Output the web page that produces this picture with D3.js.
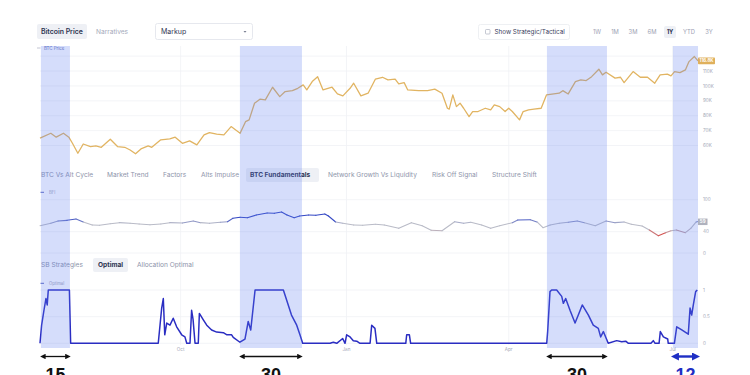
<!DOCTYPE html>
<html>
<head>
    <meta charset="utf-8" />
    <title>BTC Price / BFI / Optimal</title>
    <script src="https://d3js.org/d3.v7.min.js"></script>
    <style>
        body { margin: 0; background: #fff; }
        svg { display: block; font-family: Inter, "Noto Sans", sans-serif; }
        .tab { font-size: 6.6px; fill: #8e94aa; }
        .tab.active { fill: #2c3350; font-weight: 700; }
        .tick { font-size: 4.6px; fill: #a3a7b6; }
        .grid { stroke: #f0f1f5; stroke-width: 0.8; }
    </style>
</head>
<body>
<div id="chart"></div>
<script>
    // days are counted from the first date of the 1Y window
    var startDate = new Date(2024, 6, 15);
    var totalDays = 365;

    // BTC price, thousands of USD
    var priceSeries = [
        [0,64.9],[6,68.2],[9,65.6],[13,68.2],[16,65.6],[18,61.5],[21,54.8],[24,61],[28,59.3],[31,59.7],
        [34,58.8],[39,64.2],[43,59.3],[47,58.8],[50,57],[53,54.4],[56,57.7],[60,59.7],[62,58.8],[67,63.8],
        [72,64.4],[75,65.6],[79,61.5],[83,63.1],[87,60.4],[91,67.1],[94,68.7],[98,67.6],[102,67.1],[106,72.7],
        [111,68.2],[114,76],[116,77.2],[119,88.4],[122,91.1],[125,90.6],[129,99.1],[133,92.8],[136,96.2],[140,96.8],
        [143,98.4],[146,100.7],[148,97.3],[151,102.9],[154,106.2],[157,97.3],[162,99.1],[165,94.6],[168,93.3],[172,98.4],
        [174,101.8],[178,93.3],[182,95.1],[186,104.5],[190,105.8],[193,104],[197,104.5],[199,101.3],[202,102.2],[204,97.3],
        [210,96.8],[215,96.8],[219,97.8],[223,95.1],[226,85],[227,84.4],[229,94],[231,86.1],[233,88.4],[235,85],
        [238,79.4],[240,82.8],[243,82.8],[247,85],[250,83.9],[252,87.2],[255,86.1],[258,82.8],[260,85],[262,82.8],
        [266,77.2],[268,82.8],[271,83.9],[274,84.4],[278,85],[281,94],[285,94.6],[288,95.1],[290,96.8],[293,94.6],
        [297,102.9],[300,104],[303,103.6],[306,106.2],[310,111.2],[312,107.4],[314,109.2],[319,105.2],[322,105.8],[324,102.2],
        [329,109.6],[333,105.8],[337,105.8],[341,101.8],[344,107.4],[348,107.9],[350,106.7],[352,109.6],[355,108.9],[358,110.7],
        [360,116.3],[363,119.7],[365,116.8]
    ];

    // BTC Fundamentals index (0-100)
    var bfiSeries = [
        [0,51.2],[6,55.7],[10,60],[15,61.3],[20,63.8],[24,58.2],[29,52.5],[33,52],[39,55],[44,56.9],
        [50,55.7],[55,54.4],[61,53.1],[67,54.4],[72,56.9],[79,56.3],[85,60],[89,56.9],[94,55.7],[100,57.6],
        [104,58.7],[107,65.1],[111,67],[115,66.2],[120,71.3],[126,75],[130,74.5],[134,76.9],[137,71.3],[141,66.2],
        [144,69.4],[149,71.3],[153,70.7],[158,73.2],[160,69.4],[164,58.2],[168,55.7],[174,52.5],[179,52],[186,54],
        [191,52.5],[199,46.3],[206,56.9],[212,51.2],[217,42.6],[223,41.8],[230,58.7],[235,55.7],[239,57.6],[245,52.5],
        [250,46.3],[255,51.2],[262,56.9],[265,61.9],[272,62.5],[276,57.6],[279,47.5],[283,52.5],[288,55.7],[293,57.6],
        [298,60],[302,56.9],[308,51.2],[314,60],[319,56.9],[324,58.2],[328,53.8],[334,50.6],[338,43.1],[343,32.5],
        [347,38.1],[350,41.8],[353,43.1],[358,38.1],[361,46.3],[364,58.2],[365,59]
    ];

    // Optimal allocation (0-1)
    var optimalSeries = [
        [0,0],[0.9,0.34],[2.2,0.62],[3.3,0.84],[4,0.72],[4.6,1],[16.3,1],[17,0],[65.6,0],[67.5,0.66],
        [68.4,0.84],[69.2,0.16],[70.3,0.38],[72.1,0.34],[73.9,0.47],[75.8,0.31],[78.6,0.16],[80.4,0.12],[81.4,0],[83.2,0],
        [84.1,0.62],[84.9,0.45],[86,0],[87.8,0],[88.4,0.56],[90.6,0.44],[92.5,0.34],[95.2,0.25],[98,0.21],[101.7,0.2],
        [103.7,0.16],[106.3,0.16],[107.2,0.11],[110.9,0.02],[113.7,0.08],[115.5,0.41],[116.9,0.25],[119.3,1],[135,1],[139.5,0.53],
        [142.4,0.34],[144.2,0.16],[145.7,0],[160.9,0],[162.7,0.02],[164.6,0],[167.9,0.09],[169.2,0],[170.1,0.16],[172,0.12],
        [173.8,0.05],[175.7,0.04],[177.5,0],[183.1,0],[184,0.34],[185.8,0.28],[186.8,0],[202.9,0],[203.4,0.16],[204.9,0.16],
        [205.6,0],[281.1,0],[281.6,0.22],[282.9,0.97],[283.8,1],[286.6,1],[289.4,0.88],[290.3,0.75],[291.6,0.84],[294,0.62],
        [296.8,0.38],[298.6,0.53],[300.8,0.72],[304.2,0.53],[306.9,0.34],[309.7,0.28],[311,0.12],[312.5,0.22],[315.2,0],[319.9,0.05],
        [322.7,0.03],[324.9,0.04],[326.4,0],[338.9,0],[340.2,0.05],[341.2,0],[343.4,0],[344.1,0.22],[345.8,0.12],[348.2,0.08],
        [348.5,0],[351.9,0],[353.2,0.31],[356,0.25],[359.6,0.17],[360.6,0.66],[361.5,0.53],[362.4,0.72],[363.7,0.97],[364.6,1]
    ];

    // markup windows (start day, end day) and their day counts
    var bands = [[0.5,16.6],[110.9,145.3],[281.2,314.5],[351.1,365]];
    var bandLabels = ["15","30","30","12"];

    var priceTicks = [60,70,80,90,100,110];
    var priceGrid = [60,70,80,90,100,110,120];
    var bfiTicks = [0,40,100];
    var optimalTicks = [0,0.5,1];

    var topTabs = ["Bitcoin Price","Narratives"];
    var rangeButtons = ["1W","1M","3M","6M","1Y","YTD","3Y"];
    var indicatorTabs = ["BTC Vs Alt Cycle","Market Trend","Factors","Alts Impulse","BTC Fundamentals","Network Growth Vs Liquidity","Risk Off Signal","Structure Shift"];
    var strategyTabs = ["SB Strategies","Optimal","Allocation Optimal"];

    var W = 750, H = 375;
    var svg = d3.select("#chart").append("svg").attr("width", W).attr("height", H);

    function dayDate(d) { return new Date(startDate.getTime() + d * 864e5); }

    var x = d3.scaleTime()
        .domain([startDate, dayDate(totalDays)])
        .range([40, 698]);

    var yPrice = d3.scaleLinear().domain([60, 110]).range([145.5, 71]);
    var yBfi = d3.scaleLinear().domain([0, 100]).range([253, 199.7]);
    var yOpt = d3.scaleLinear().domain([0, 1]).range([343.3, 290]);

    // ---- header controls ----
    var hdr = svg.append("g");
    hdr.append("rect").attr("x", 37).attr("y", 24).attr("width", 50).attr("height", 15).attr("rx", 2).attr("fill", "#eef0f5");
    hdr.append("text").attr("class", "tab active").attr("x", 41).attr("y", 34.2).style("font-weight", 600).style("font-size", "6.9px").text(topTabs[0]);
    hdr.append("text").attr("class", "tab").attr("x", 96).attr("y", 34.2).style("font-size", "6.6px").style("fill", "#a4a9ba").text(topTabs[1]);

    hdr.append("rect").attr("x", 155.5).attr("y", 23.5).attr("width", 97).attr("height", 16).attr("rx", 2)
        .attr("fill", "#fff").attr("stroke", "#e6e8ee");
    hdr.append("text").attr("x", 161).attr("y", 34.2).attr("font-size", 7).attr("fill", "#2f3552").text("Markup");
    hdr.append("path").attr("d", "M243.5,31 l3,0 l-1.5,1.8 z").attr("fill", "#777c90");

    hdr.append("rect").attr("x", 478.5).attr("y", 24.5).attr("width", 91).attr("height", 15).attr("rx", 2)
        .attr("fill", "#fff").attr("stroke", "#eef0f3");
    hdr.append("rect").attr("x", 485.5).attr("y", 29.5).attr("width", 4.5).attr("height", 4.5).attr("rx", 0.8)
        .attr("fill", "#fff").attr("stroke", "#9ea3b4").attr("stroke-width", 0.6);
    hdr.append("text").attr("x", 494.5).attr("y", 34.2).attr("font-size", 6.3).attr("fill", "#3a4060").text("Show Strategic/Tactical");

    var rangeX = [597, 615, 633, 652, 670, 689, 709];
    rangeButtons.forEach(function (r, i) {
        if (r === "1Y") {
            hdr.append("rect").attr("x", rangeX[i] - 6).attr("y", 26).attr("width", 12).attr("height", 12).attr("rx", 2).attr("fill", "#eef0f5");
        }
        hdr.append("text").attr("x", rangeX[i]).attr("y", 34).attr("text-anchor", "middle")
            .attr("font-size", 5.8)
            .attr("font-weight", r === "1Y" ? 700 : 400)
            .attr("fill", r === "1Y" ? "#2c3350" : "#9ca1b3")
            .text(r);
    });

    // ---- grid ----
    var grid = svg.append("g");
    var monthTicks = x.ticks(d3.timeMonth.every(3));
    grid.selectAll(".vg").data(monthTicks).enter().append("line")
        .attr("class", "grid")
        .attr("x1", function (d) { return x(d); }).attr("x2", function (d) { return x(d); })
        .attr("y1", 46).attr("y2", 345);
    grid.selectAll(".pg").data(priceGrid).enter().append("line")
        .attr("class", "grid")
        .attr("x1", 40).attr("x2", 698)
        .attr("y1", function (d) { return yPrice(d); }).attr("y2", function (d) { return yPrice(d); });
    grid.selectAll(".bg").data(bfiTicks).enter().append("line")
        .attr("class", "grid")
        .attr("x1", 40).attr("x2", 698)
        .attr("y1", function (d) { return yBfi(d); }).attr("y2", function (d) { return yBfi(d); });
    grid.selectAll(".og").data(optimalTicks).enter().append("line")
        .attr("class", "grid")
        .attr("x1", 40).attr("x2", 698)
        .attr("y1", function (d) { return yOpt(d); }).attr("y2", function (d) { return yOpt(d); });

    // ---- price panel ----
    svg.append("line").attr("x1", 37).attr("x2", 40.5).attr("y1", 48).attr("y2", 48).attr("stroke", "#9aa0b5").attr("stroke-width", 0.6);
    svg.append("text").attr("x", 44).attr("y", 49.6).attr("font-size", 4.4).attr("fill", "#5f6fb8").text("BTC Price");

    var priceLine = d3.line()
        .x(function (d) { return x(dayDate(d[0])); })
        .y(function (d) { return yPrice(d[1]); });
    svg.append("path").datum(priceSeries).attr("d", priceLine)
        .attr("fill", "none").attr("stroke", "#e1b462").attr("stroke-width", 1.3).attr("stroke-linejoin", "round");

    svg.selectAll(".ptick").data(priceTicks).enter().append("text")
        .attr("class", "tick").attr("x", 703).attr("y", function (d) { return yPrice(d) + 1.6; })
        .text(function (d) { return d + "K"; });

    // ---- indicator tabs ----
    var tabX = [41, 107, 163, 201, 250, 328, 432, 492];
    indicatorTabs.forEach(function (t, i) {
        if (t === "BTC Fundamentals") {
            svg.append("rect").attr("x", tabX[i] - 4).attr("y", 168).attr("width", 73).attr("height", 14).attr("rx", 2).attr("fill", "#eef0f5");
        }
        svg.append("text").attr("class", t === "BTC Fundamentals" ? "tab active" : "tab")
            .attr("x", tabX[i]).attr("y", 177.4).text(t);
    });

    svg.append("line").attr("x1", 40.5).attr("x2", 44).attr("y1", 192.3).attr("y2", 192.3).attr("stroke", "#2f3fb0").attr("stroke-width", 0.8);
    svg.append("text").attr("x", 49).attr("y", 193.8).attr("font-size", 4.2).attr("fill", "#9ca1b6").text("BFI");

    // BFI line, coloured by level
    var bfiColor = d3.scaleLinear()
        .domain([34, 43, 56, 64])
        .range(["#d8413c", "#b9bbc7", "#b9bbc7", "#3347c4"])
        .clamp(true);
    var bfiLine = d3.line()
        .x(function (d) { return x(dayDate(d[0])); })
        .y(function (d) { return yBfi(d[1]); });
    d3.pairs(bfiSeries).forEach(function (p) {
        svg.append("path").datum(p).attr("d", bfiLine)
            .attr("fill", "none")
            .attr("stroke", bfiColor((p[0][1] + p[1][1]) / 2))
            .attr("stroke-width", 1.1).attr("stroke-linecap", "round");
    });

    svg.selectAll(".btick").data(bfiTicks).enter().append("text")
        .attr("class", "tick").attr("x", 703).attr("y", function (d) { return yBfi(d) + 1.6; })
        .text(function (d) { return d; });

    // ---- strategy tabs ----
    var stratX = [41, 98, 137];
    strategyTabs.forEach(function (t, i) {
        if (t === "Optimal") {
            svg.append("rect").attr("x", 93).attr("y", 258).attr("width", 35).attr("height", 14).attr("rx", 2).attr("fill", "#eef0f5");
        }
        svg.append("text").attr("class", t === "Optimal" ? "tab active" : "tab")
            .attr("x", stratX[i]).attr("y", 267.4).text(t);
    });

    svg.append("line").attr("x1", 40.5).attr("x2", 44).attr("y1", 283.3).attr("y2", 283.3).attr("stroke", "#2f3fb0").attr("stroke-width", 0.8);
    svg.append("text").attr("x", 49).attr("y", 284.8).attr("font-size", 4.2).attr("fill", "#9ca1b6").text("Optimal");

    var optLine = d3.line()
        .x(function (d) { return x(dayDate(d[0])); })
        .y(function (d) { return yOpt(d[1]); });
    svg.append("path").datum(optimalSeries).attr("d", optLine)
        .attr("fill", "none").attr("stroke", "#2a2dc2").attr("stroke-width", 1.5).attr("stroke-linejoin", "round");

    svg.selectAll(".otick").data(optimalTicks).enter().append("text")
        .attr("class", "tick").attr("x", 703).attr("y", function (d) { return yOpt(d) + 1.6; })
        .text(function (d) { return d; });

    svg.selectAll(".mlab").data(monthTicks).enter().append("text")
        .attr("class", "tick").attr("text-anchor", "middle")
        .attr("x", function (d) { return x(d); }).attr("y", 350.5)
        .text(d3.timeFormat("%b"));

    // ---- markup bands on top ----
    svg.selectAll(".band").data(bands).enter().append("rect")
        .attr("x", function (d) { return x(dayDate(d[0])); })
        .attr("width", function (d) { return x(dayDate(d[1])) - x(dayDate(d[0])); })
        .attr("y", 46).attr("height", 302)
        .attr("fill", "rgb(92,122,240)").attr("fill-opacity", 0.26);

    // last-value tags
    var lastPrice = priceSeries[priceSeries.length - 1];
    var pty = yPrice(lastPrice[1]);
    svg.append("rect").attr("x", 698).attr("y", pty - 3.4).attr("width", 17).attr("height", 6.8).attr("rx", 0.8).attr("fill", "#dfb05c");
    svg.append("text").attr("x", 706.5).attr("y", pty + 1.6).attr("text-anchor", "middle").attr("font-size", 4.4)
        .attr("font-weight", 700).attr("fill", "#fff").text(lastPrice[1] + "K");

    var lastBfi = bfiSeries[bfiSeries.length - 1];
    var bty = yBfi(lastBfi[1]);
    svg.append("rect").attr("x", 698).attr("y", bty - 3).attr("width", 9.5).attr("height", 6.5).attr("fill", "#afb2be");
    svg.append("text").attr("x", 702.7).attr("y", bty + 1.8).attr("text-anchor", "middle").attr("font-size", 4.4)
        .attr("font-weight", 700).attr("fill", "#fff").text(lastBfi[1]);

    // ---- duration arrows under each band ----
    var defs = svg.append("defs");
    function arrowMarker(id, color, size) {
        [["s", "M10,0 L0,5 L10,10 z"], ["e", "M0,0 L10,5 L0,10 z"]].forEach(function (m) {
            defs.append("marker").attr("id", id + m[0])
                .attr("viewBox", "0 0 10 10").attr("refX", 5).attr("refY", 5)
                .attr("markerWidth", size).attr("markerHeight", size).attr("markerUnits", "userSpaceOnUse")
                .attr("orient", "auto")
                .append("path").attr("d", m[1]).attr("fill", color);
        });
    }
    arrowMarker("blk", "#111", 5.5);
    arrowMarker("blu", "#1f2fc4", 8);

    bands.forEach(function (b, i) {
        var last = i === bands.length - 1;
        var x0 = x(dayDate(b[0])), x1 = x(dayDate(b[1]));
        var id = last ? "blu" : "blk";
        svg.append("line").attr("x1", x0 + 2).attr("x2", x1 - 2).attr("y1", 356.5).attr("y2", 356.5)
            .attr("stroke", last ? "#1f2fc4" : "#111").attr("stroke-width", last ? 2.4 : 1.3)
            .attr("marker-start", "url(#" + id + "s)").attr("marker-end", "url(#" + id + "e)");
        svg.append("text").attr("x", (x0 + x1) / 2).attr("y", 380.5).attr("text-anchor", "middle")
            .attr("font-family", "Liberation Sans, Arial, sans-serif").attr("font-weight", 700).attr("font-size", 18)
            .attr("fill", last ? "#1f2fc4" : "#111").text(bandLabels[i]);
    });
</script>
</body>
</html>
